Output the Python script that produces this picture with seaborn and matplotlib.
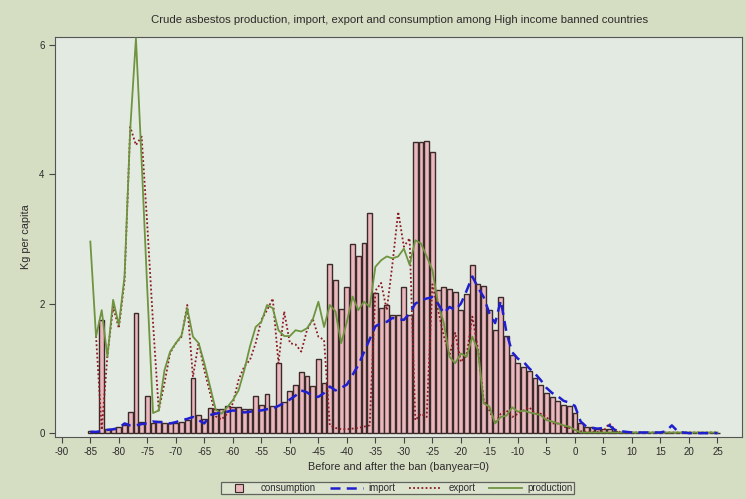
import numpy as np
import pandas as pd
import matplotlib
matplotlib.use("Agg")
import matplotlib.pyplot as plt
from matplotlib.lines import Line2D
import seaborn as sns

# Years relative to the national ban (banyear = 0)
years = list(range(-85, 26))

consumption = [
    0.04, 0.02, 1.75, 0.07, 0.07, 0.09, 0.12, 0.33, 1.86, 0.17,   # -85 .. -76
    0.57, 0.16, 0.18, 0.16, 0.15, 0.15, 0.17, 0.20, 0.85, 0.28,   # -75 .. -66
    0.22, 0.39, 0.37, 0.37, 0.42, 0.40, 0.40, 0.38, 0.37, 0.58,   # -65 .. -56
    0.43, 0.60, 0.42, 1.08, 0.48, 0.65, 0.74, 0.95, 0.88, 0.73,   # -55 .. -46
    1.14, 0.78, 2.61, 2.37, 1.92, 2.26, 2.92, 2.73, 2.94, 3.40,   # -45 .. -36
    2.16, 1.94, 1.98, 1.82, 1.82, 2.26, 1.82, 4.50, 4.49, 4.51,   # -35 .. -26
    4.35, 2.21, 2.26, 2.22, 2.18, 1.90, 2.15, 2.60, 2.30, 2.28,   # -25 .. -16
    1.90, 1.59, 2.11, 1.50, 1.20, 1.08, 1.02, 0.96, 0.85, 0.75,   # -15 .. -6
    0.62, 0.56, 0.50, 0.43, 0.42, 0.31, 0.15, 0.10, 0.09, 0.07,   #  -5 .. 4
    0.07, 0.06, 0.03, 0.02, 0.01, 0.01, 0.0, 0.0, 0.0, 0.0,       #   5 .. 14
    0.0, 0.0, 0.0, 0.0, 0.0, 0.0, 0.0, 0.0, 0.0, 0.0, 0.0,        #  15 .. 25
]

imports = [
    0.02, 0.02, 0.03, 0.05, 0.06, 0.08, 0.15, 0.12, 0.12, 0.14,
    0.15, 0.18, 0.17, 0.17, 0.15, 0.17, 0.20, 0.22, 0.25, 0.20,
    0.15, 0.28, 0.30, 0.32, 0.33, 0.35, 0.34, 0.32, 0.33, 0.35,
    0.35, 0.37, 0.38, 0.42, 0.47, 0.52, 0.58, 0.66, 0.63, 0.57,
    0.56, 0.62, 0.72, 0.66, 0.70, 0.75, 0.90, 1.05, 1.25, 1.45,
    1.65, 1.70, 1.72, 1.78, 1.76, 1.75, 1.85, 2.00, 2.05, 2.08,
    2.10, 2.00, 1.85, 1.95, 1.90, 2.00, 2.20, 2.42, 2.25, 2.10,
    1.85, 1.70, 2.05, 1.55, 1.25, 1.15, 1.10, 1.00, 0.92, 0.82,
    0.70, 0.62, 0.57, 0.50, 0.47, 0.42, 0.18, 0.10, 0.08, 0.07,
    0.08, 0.12, 0.05, 0.03, 0.02, 0.01, 0.01, 0.01, 0.01, 0.01,
    0.01, 0.03, 0.12, 0.03, 0.01, 0.0, 0.0, 0.0, 0.0, 0.0, 0.0,
]

exports = [
    np.nan, 1.50, 0.05, 1.20, 1.95, 1.62, 2.35, 4.73, 4.45, 4.58,
    3.20, 1.70, 0.35, 0.77, 1.24, 1.39, 1.49, 1.98, 0.87, 1.40,
    0.97, 0.62, 0.26, 0.21, 0.30, 0.46, 0.82, 1.03, 1.13, 1.39,
    1.75, 1.90, 2.08, 1.08, 1.88, 1.39, 1.37, 1.26, 1.59, 1.77,
    1.49, 1.44, 0.12, 0.08, 0.06, 0.06, 0.07, 0.08, 0.10, 0.12,
    2.20, 2.32, 1.90, 2.62, 3.42, 2.88, 3.01, 0.20, 0.30, 0.25,
    2.30, 1.90, 1.50, 1.20, 1.55, 1.10, 1.20, 1.80, 1.30, 0.50,
    0.35, 0.15, 0.30, 0.35, 0.25, 0.30, 0.35, 0.40, 0.30, 0.30,
    0.25, 0.15, 0.15, 0.10, 0.08, 0.05, 0.03, 0.02, 0.02, 0.02,
    0.03, 0.15, 0.06, 0.01, 0.01, 0.01, 0.01, 0.01, 0.01, 0.01,
    0.01, 0.01, 0.01, 0.01, 0.01, 0.01, 0.01, 0.01, 0.01, 0.01, 0.01,
]

production = [
    2.96, 1.49, 1.90, 1.18, 2.06, 1.67, 2.42, 4.70, 6.10, 4.20,
    2.20, 0.31, 0.35, 0.97, 1.26, 1.39, 1.51, 1.93, 1.49, 1.39,
    1.08, 0.72, 0.36, 0.30, 0.40, 0.51, 0.66, 0.97, 1.34, 1.64,
    1.72, 1.98, 1.93, 1.59, 1.50, 1.50, 1.59, 1.57, 1.62, 1.75,
    2.03, 1.64, 1.98, 1.88, 1.39, 1.72, 2.11, 1.90, 2.03, 1.95,
    2.57, 2.67, 2.73, 2.70, 2.73, 2.85, 2.60, 2.98, 2.93, 2.73,
    2.52, 2.00, 1.70, 1.18, 1.08, 1.23, 1.18, 1.49, 1.28, 0.46,
    0.41, 0.15, 0.25, 0.27, 0.40, 0.33, 0.35, 0.32, 0.30, 0.28,
    0.20, 0.18, 0.15, 0.12, 0.10, 0.05, 0.01, 0.01, 0.01, 0.01,
    0.01, 0.01, 0.01, 0.01, 0.01, 0.01, 0.01, 0.01, 0.01, 0.01,
    0.01, 0.01, 0.01, 0.01, 0.01, 0.01, 0.01, 0.01, 0.01, 0.01, 0.01,
]

x_ticks = list(range(-90, 30, 5))
y_ticks = [0, 2, 4, 6]

df = pd.DataFrame({
    "year": years,
    "consumption": consumption,
    "import": imports,
    "export": exports,
    "production": production,
})

FIG_BG = "#d5ddc3"
PLOT_BG = "#e3eae1"
BAR_FILL = "#e9b7bc"
BAR_EDGE = "#3b2a2a"
C_IMPORT = "#1f1fd0"
C_EXPORT = "#8b1a22"
C_PROD = "#6f9440"
TXT = "#2b2b2b"

plt.rcParams["font.family"] = ["Liberation Sans", "DejaVu Sans"]

fig = plt.figure(figsize=(7.46, 4.99), dpi=100, facecolor=FIG_BG)
ax = fig.add_axes([0.0737, 0.1242, 0.9209, 0.8017])
ax.set_facecolor(PLOT_BG)

sns.barplot(data=df, x="year", y="consumption", native_scale=True,
            color=BAR_FILL, edgecolor=BAR_EDGE, linewidth=1.0,
            width=0.85, saturation=1, errorbar=None, ax=ax, zorder=2)

sns.lineplot(data=df, x="year", y="import", ax=ax, color=C_IMPORT,
             linewidth=1.8, zorder=4)
ax.lines[-1].set_dashes([4, 2.5])
sns.lineplot(data=df, x="year", y="export", ax=ax, color=C_EXPORT,
             linewidth=1.3, zorder=3)
ax.lines[-1].set_dashes([1, 1.3])
sns.lineplot(data=df, x="year", y="production", ax=ax, color=C_PROD,
             linewidth=1.3, zorder=3)

ax.set_xlim(-91.2, 29.3)
ax.set_ylim(-0.06, 6.12)
ax.set_xticks(x_ticks)
ax.set_xticklabels([str(t) for t in x_ticks])
ax.set_yticks(y_ticks)
ax.tick_params(axis="both", labelsize=7, colors="#444444",
               labelcolor=TXT, length=4, width=0.8, direction="out")
for s in ax.spines.values():
    s.set_color("#555555")
    s.set_linewidth(0.8)

ax.set_xlabel("Before and after the ban (banyear=0)", fontsize=7.8,
              color=TXT, labelpad=3)
ax.set_ylabel("Kg per capita", fontsize=7.8, color=TXT, labelpad=6)
fig.text(0.535, 0.96,
         "Crude asbestos production, import, export and consumption among High income banned countries",
         ha="center", va="center", fontsize=8.2, color=TXT)

handles = [
    Line2D([], [], marker="s", linestyle="none", markersize=5.5,
           markerfacecolor=BAR_FILL, markeredgecolor=BAR_EDGE, markeredgewidth=0.8),
    Line2D([], [], color=C_IMPORT, linewidth=1.8, dashes=[4, 2.5]),
    Line2D([], [], color=C_EXPORT, linewidth=1.3, dashes=[1, 1.3]),
    Line2D([], [], color=C_PROD, linewidth=1.3),
]
labels = ["consumption", "import", "export", "production"]
leg = fig.legend(handles, labels, loc="center", bbox_to_anchor=(0.533, 0.022),
                 ncol=4, fontsize=7, frameon=True, fancybox=False,
                 handlelength=3.4, handletextpad=0.6, columnspacing=1.4,
                 borderpad=0.15, facecolor="#dfe6d4", edgecolor="#444444")
leg.get_frame().set_linewidth(0.9)
for t in leg.get_texts():
    t.set_color(TXT)

fig.savefig("out.png", dpi=100, facecolor=FIG_BG)
